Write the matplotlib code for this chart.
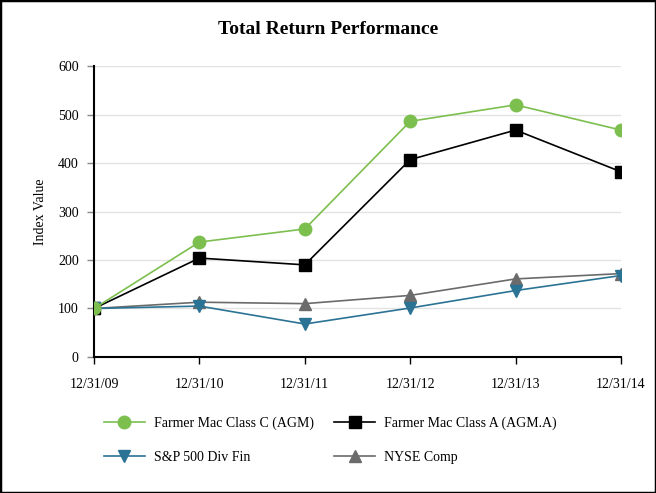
import matplotlib
matplotlib.use("Agg")
import matplotlib.pyplot as plt
from matplotlib.patches import Rectangle

plt.rcParams['font.family'] = ['Liberation Serif', 'DejaVu Serif']

dates = ["12/31/09", "12/31/10", "12/31/11", "12/31/12", "12/31/13", "12/31/14"]
agm_c = [100, 237, 264, 486, 520, 468]
agm_a = [100, 204, 190, 407, 468, 382]
sp500_fin = [100, 105, 68, 101, 137, 168]
nyse = [100, 113, 110, 127, 161, 172]

fig = plt.figure(figsize=(6.56, 4.93), dpi=100)
ax = fig.add_axes([0.1433, 0.2759, 0.8033, 0.5901])

x = list(range(len(dates)))
h_c, = ax.plot(x, agm_c, color='#7dbf4f', lw=1.2, marker='o', ms=9, label='Farmer Mac Class C (AGM)', zorder=4)
h_a, = ax.plot(x, agm_a, color='#000000', lw=1.2, marker='s', ms=8.5, label='Farmer Mac Class A (AGM.A)', zorder=3)
h_s, = ax.plot(x, sp500_fin, color='#2b7394', lw=1.2, marker='v', ms=9, label='S&P 500 Div Fin', zorder=3)
h_n, = ax.plot(x, nyse, color='#6b6b6b', lw=1.2, marker='^', ms=9, label='NYSE Comp', zorder=2)

ax.set_xlim(0, 5)
ax.set_ylim(0, 600)
ax.set_yticks(range(0, 601, 100))
ax.set_xticks(x)
ax.set_xticklabels(dates)
ax.tick_params(axis='x', length=5, width=1, pad=10, labelsize=10)
ax.tick_params(axis='y', length=5, width=1, color='#888888', pad=6, labelsize=10)
ax.yaxis.grid(True, color='#e3e3e3', lw=1)
ax.set_axisbelow(True)
for s in ['top', 'right']:
    ax.spines[s].set_visible(False)
ax.spines['left'].set_linewidth(1.5)
ax.spines['bottom'].set_linewidth(1.5)
ax.set_ylabel('Index Value', fontsize=10, labelpad=8)

fig.text(0.5, 0.941, 'Total Return Performance', ha='center', va='center',
         fontsize=14, fontweight='bold')

handles = [h_c, h_s, h_a, h_n]
labels = [h.get_label() for h in handles]
fig.legend(handles, labels, loc='upper left', bbox_to_anchor=(0.14, 0.181),
           ncol=2, frameon=False, fontsize=10, handlelength=2.9,
           columnspacing=1.5, labelspacing=1.5, handletextpad=0.65)

fig.add_artist(Rectangle((0, 0), 1, 1, transform=fig.transFigure, fill=False,
                         edgecolor='black', lw=2.5))

fig.savefig('out.png', dpi=100)
